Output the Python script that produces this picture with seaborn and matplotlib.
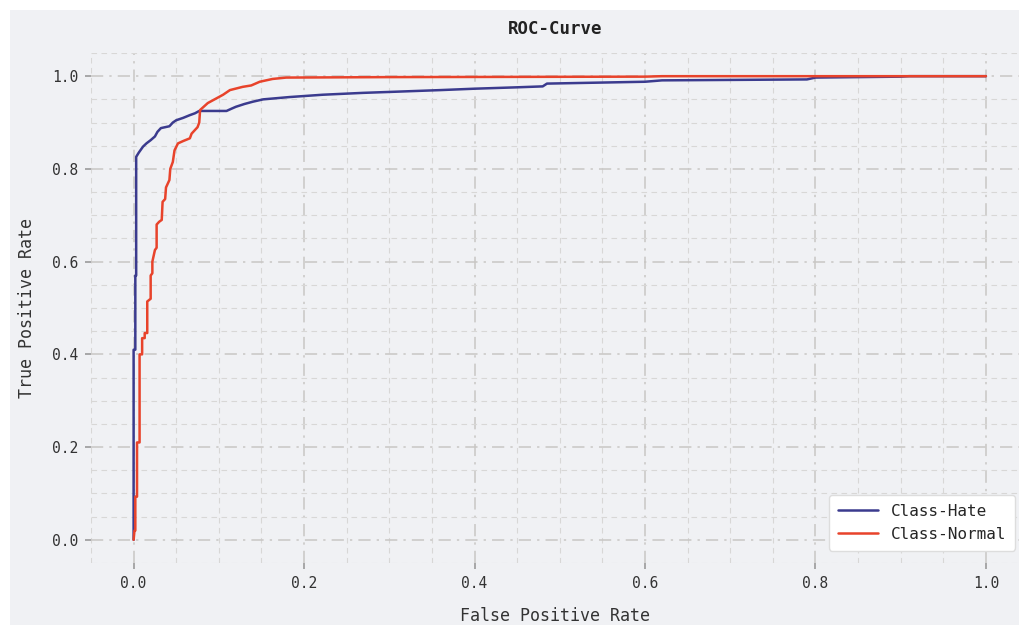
import numpy as np
import pandas as pd
import seaborn as sns
import matplotlib.pyplot as plt
from matplotlib.patches import Rectangle
from matplotlib.ticker import MultipleLocator

# ROC points
hate_fpr = [0, 0, 0.002, 0.002, 0.003, 0.003, 0.006, 0.011, 0.015, 0.02, 0.025, 0.028,
            0.032, 0.042, 0.046, 0.05, 0.058, 0.066, 0.072, 0.077, 0.109, 0.115, 0.12,
            0.13, 0.14, 0.152, 0.183, 0.222, 0.269, 0.30, 0.33, 0.36, 0.4, 0.45, 0.48,
            0.485, 0.6, 0.62, 0.79, 0.8, 0.9, 0.91, 1.0]
hate_tpr = [0, 0.41, 0.41, 0.57, 0.57, 0.826, 0.835, 0.848, 0.855, 0.862, 0.87, 0.88,
            0.888, 0.892, 0.9, 0.905, 0.91, 0.916, 0.92, 0.925, 0.925, 0.93, 0.934,
            0.94, 0.945, 0.95, 0.955, 0.96, 0.964, 0.966, 0.968, 0.97, 0.973, 0.976, 0.978,
            0.984, 0.988, 0.991, 0.993, 0.997, 0.999, 1.0, 1.0]

normal_fpr = [0, 0.001, 0.002, 0.002, 0.004, 0.004, 0.007, 0.007, 0.01, 0.01, 0.013, 0.013,
              0.016, 0.016, 0.02, 0.02, 0.022, 0.022, 0.025, 0.027, 0.027, 0.03, 0.033,
              0.034, 0.037, 0.038, 0.042, 0.043, 0.046, 0.048, 0.052, 0.058, 0.066, 0.068,
              0.072, 0.075, 0.077, 0.078, 0.087, 0.097, 0.105, 0.113, 0.128, 0.138, 0.148,
              0.163, 0.179, 0.3, 0.6, 0.62, 1.0]
normal_tpr = [0, 0.02, 0.02, 0.093, 0.093, 0.21, 0.21, 0.40, 0.40, 0.435, 0.435, 0.446,
              0.446, 0.514, 0.52, 0.57, 0.575, 0.6, 0.625, 0.63, 0.68, 0.686, 0.69,
              0.729, 0.735, 0.76, 0.776, 0.8, 0.815, 0.84, 0.855, 0.86, 0.866, 0.876,
              0.884, 0.89, 0.9, 0.927, 0.942, 0.952, 0.96, 0.97, 0.977, 0.98, 0.988,
              0.994, 0.997, 0.998, 0.999, 1.0, 1.0]

ticks = [0.0, 0.2, 0.4, 0.6, 0.8, 1.0]

bg = '#f0f1f4'
sns.set_theme(style='white')
plt.rcParams['font.family'] = ['DejaVu Sans Mono', 'DejaVu Sans']

fig = plt.figure(figsize=(10.2, 6.25), dpi=100, facecolor='white')
fig.patches.append(Rectangle((10 / 1020, 0), 1, 1 - 10 / 625, transform=fig.transFigure,
                             facecolor=bg, edgecolor='none', zorder=-1))
ax = fig.add_axes([91 / 1020, 1 - 563 / 625, (1020 - 91) / 1020, (563 - 53) / 625])
ax.set_facecolor(bg)

df = pd.concat([
    pd.DataFrame({'fpr': hate_fpr, 'tpr': hate_tpr, 'cls': 'Class-Hate'}),
    pd.DataFrame({'fpr': normal_fpr, 'tpr': normal_tpr, 'cls': 'Class-Normal'}),
])
sns.lineplot(data=df, x='fpr', y='tpr', hue='cls', sort=False, estimator=None,
             palette=['#3b3b8e', '#e8432b'], linewidth=1.8, ax=ax)

ax.set_xlim(-0.05, 1.04)
ax.set_ylim(-0.05, 1.05)
ax.set_xticks(ticks)
ax.set_yticks(ticks)
ax.xaxis.set_minor_locator(MultipleLocator(0.05))
ax.yaxis.set_minor_locator(MultipleLocator(0.05))
ax.grid(which='major', color='#c8c6c4', linestyle='-.', linewidth=1.1, dashes=(8, 4, 1.5, 4))
ax.grid(which='minor', color='#d8d7d6', linestyle='--', linewidth=0.8, dashes=(5, 4))
for s in ax.spines.values():
    s.set_visible(False)
ax.tick_params(which='major', direction='out', length=4, width=1.2, color='#9a9a9a',
               labelsize=10.5, labelcolor='#333333', bottom=True, left=True, pad=5)
ax.tick_params(which='minor', length=0)

ax.set_title('ROC-Curve', fontsize=12.5, fontweight='bold', color='#222222', pad=14)
ax.set_xlabel('False Positive Rate', fontsize=12, color='#333333', labelpad=12)
ax.set_ylabel('True Positive Rate', fontsize=12, color='#333333', labelpad=12)

ax.legend(loc='lower right', bbox_to_anchor=(0.998, 0.018), fontsize=11.5, frameon=True,
          facecolor='white', edgecolor='#dddddd', framealpha=1, title=None,
          handlelength=2.5, borderpad=0.55, borderaxespad=0.2)

fig.savefig('out.png', dpi=100)
